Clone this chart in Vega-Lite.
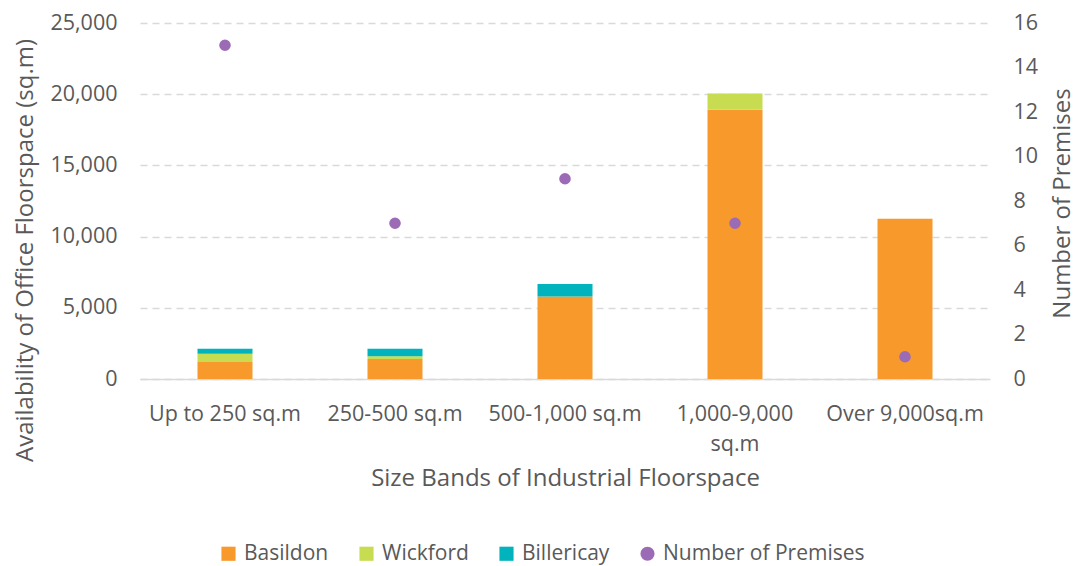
{
  "$schema": "https://vega.github.io/schema/vega-lite/v6.json",
  "width": 850,
  "height": 356,
  "autosize": {"type": "none"},
  "padding": {"left": 140, "top": 23, "right": 85, "bottom": 187},
  "background": "white",
  "config": {
    "font": "Open Sans",
    "view": {"stroke": null},
    "axis": {
      "labelFont": "Open Sans",
      "titleFont": "Open Sans",
      "labelFontSize": 21.5,
      "titleFontSize": 24,
      "labelColor": "#595959",
      "titleColor": "#595959",
      "titleFontWeight": "normal",
      "ticks": false,
      "domain": false
    },
    "legend": {
      "labelFont": "Open Sans",
      "labelFontSize": 21,
      "labelColor": "#595959",
      "labelLimit": 400
    }
  },
  "datasets": {
    "floorspace": [
      {"band": "Up to 250 sq.m", "series": "Basildon", "sqm": 1200},
      {"band": "Up to 250 sq.m", "series": "Wickford", "sqm": 580},
      {"band": "Up to 250 sq.m", "series": "Billericay", "sqm": 350},
      {"band": "250-500 sq.m", "series": "Basildon", "sqm": 1400},
      {"band": "250-500 sq.m", "series": "Wickford", "sqm": 200},
      {"band": "250-500 sq.m", "series": "Billericay", "sqm": 520},
      {"band": "500-1,000 sq.m", "series": "Basildon", "sqm": 5800},
      {"band": "500-1,000 sq.m", "series": "Billericay", "sqm": 880},
      {"band": "1,000-9,000 sq.m", "series": "Basildon", "sqm": 18900},
      {"band": "1,000-9,000 sq.m", "series": "Wickford", "sqm": 1150},
      {"band": "Over 9,000sq.m", "series": "Basildon", "sqm": 11250}
    ],
    "premises": [
      {"band": "Up to 250 sq.m", "series": "Number of Premises", "count": 15},
      {"band": "250-500 sq.m", "series": "Number of Premises", "count": 7},
      {"band": "500-1,000 sq.m", "series": "Number of Premises", "count": 9},
      {"band": "1,000-9,000 sq.m", "series": "Number of Premises", "count": 7},
      {"band": "Over 9,000sq.m", "series": "Number of Premises", "count": 1}
    ]
  },
  "layer": [
    {
      "data": {"name": "floorspace"},
      "transform": [
        {"calculate": "indexof(['Basildon', 'Wickford', 'Billericay'], datum.series)", "as": "stackRank"}
      ],
      "mark": {"type": "bar", "size": 55},
      "encoding": {
        "x": {
          "field": "band",
          "type": "nominal",
          "sort": ["Up to 250 sq.m", "250-500 sq.m", "500-1,000 sq.m", "1,000-9,000 sq.m", "Over 9,000sq.m"],
          "scale": {"paddingInner": 0, "paddingOuter": 0},
          "axis": {
            "title": "Size Bands of Industrial Floorspace",
            "labelAngle": 0,
            "labelBaseline": "alphabetic",
            "labelPadding": 41,
            "labelLineHeight": 30,
            "labelExpr": "datum.label == '1,000-9,000 sq.m' ? ['1,000-9,000', 'sq.m'] : datum.label",
            "domain": true,
            "domainColor": "#D9D9D9",
            "domainWidth": 1.5,
            "titleBaseline": "alphabetic",
            "titleY": 106
          }
        },
        "y": {
          "field": "sqm",
          "type": "quantitative",
          "stack": "zero",
          "scale": {"domain": [0, 25000]},
          "axis": {
            "title": "Availability of Office Floorspace (sq.m)",
            "values": [0, 5000, 10000, 15000, 20000, 25000],
            "format": ",.0f",
            "labelPadding": 23,
            "grid": true,
            "gridColor": "#D9D9D9",
            "gridWidth": 1.5,
            "gridDash": [7, 5],
            "titleAngle": -90,
            "titleBaseline": "alphabetic",
            "titleAlign": "center",
            "titleX": -108,
            "titleY": 227
          }
        },
        "color": {
          "field": "series",
          "type": "nominal",
          "scale": {
            "domain": ["Basildon", "Wickford", "Billericay", "Number of Premises"],
            "range": ["#F7992B", "#C8DC52", "#00B3BD", "#9C6BB5"]
          },
          "legend": {
            "title": null,
            "orient": "none",
            "direction": "horizontal",
            "legendX": 78,
            "legendY": 520,
            "symbolSize": 200,
            "symbolOpacity": 1,
            "labelOffset": 5,
            "columnPadding": 27
          }
        },
        "order": {"field": "stackRank", "type": "quantitative"}
      }
    },
    {
      "data": {"name": "premises"},
      "mark": {"type": "point", "filled": true, "size": 135, "opacity": 1},
      "encoding": {
        "x": {
          "field": "band",
          "type": "nominal",
          "sort": ["Up to 250 sq.m", "250-500 sq.m", "500-1,000 sq.m", "1,000-9,000 sq.m", "Over 9,000sq.m"]
        },
        "y": {
          "field": "count",
          "type": "quantitative",
          "scale": {"domain": [0, 16]},
          "axis": {
            "orient": "right",
            "title": "Number of Premises",
            "values": [0, 2, 4, 6, 8, 10, 12, 14, 16],
            "labelPadding": 23,
            "grid": false,
            "titleAngle": -90,
            "titleBaseline": "alphabetic",
            "titleAlign": "center",
            "titleX": 79,
            "titleY": 180
          }
        },
        "color": {
          "field": "series",
          "type": "nominal",
          "scale": {
            "domain": ["Basildon", "Wickford", "Billericay", "Number of Premises"],
            "range": ["#F7992B", "#C8DC52", "#00B3BD", "#9C6BB5"]
          }
        },
        "shape": {
          "field": "series",
          "type": "nominal",
          "scale": {
            "domain": ["Basildon", "Wickford", "Billericay", "Number of Premises"],
            "range": ["square", "square", "square", "circle"]
          }
        }
      }
    }
  ],
  "resolve": {"scale": {"y": "independent"}}
}
